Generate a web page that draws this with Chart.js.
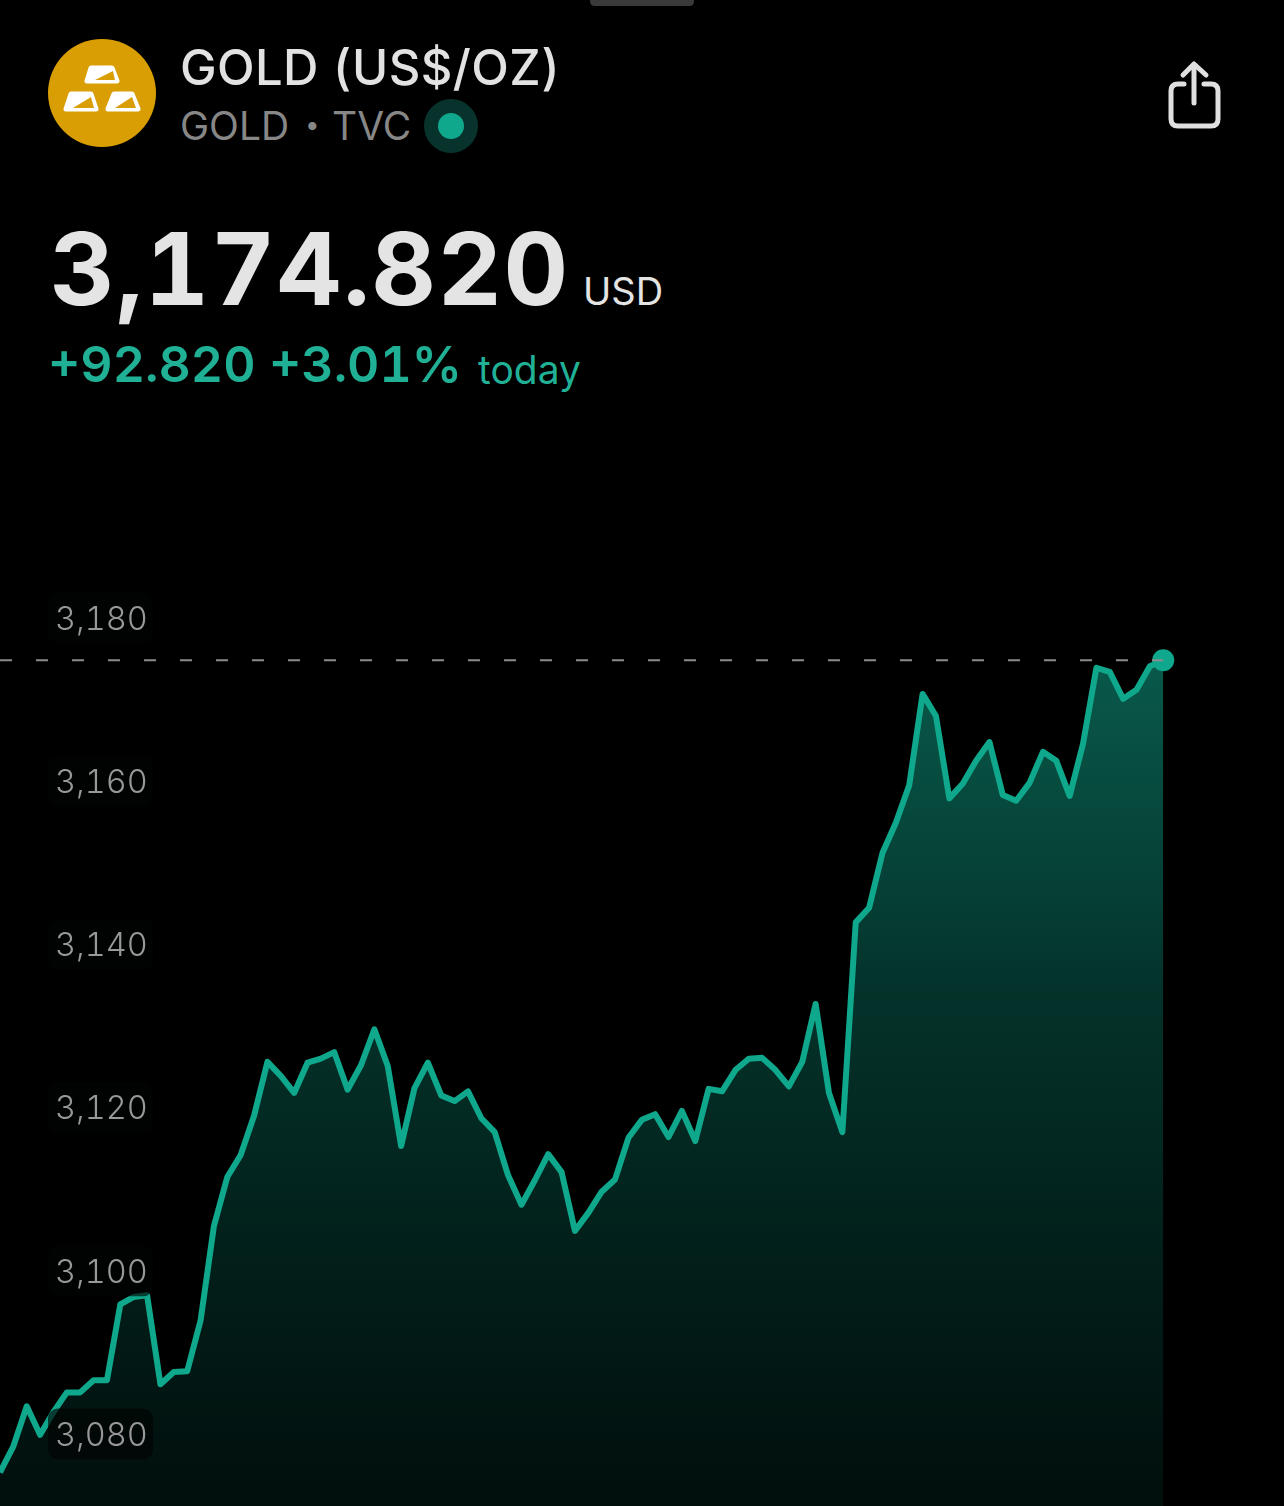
<!DOCTYPE html>
<html>
<head>
<meta charset="utf-8">
<title>GOLD (US$/OZ)</title>
<script src="https://cdn.jsdelivr.net/npm/chart.js@4"></script>
<style>
  html, body { margin: 0; background: #000; }
  body { position: relative; width: 1284px; height: 1506px; overflow: hidden; font-family: Inter, sans-serif; font-variant-numeric: tabular-nums; }
  .txt { position: absolute; white-space: nowrap; line-height: 1; }
  svg { position: absolute; left: 0; top: 0; }
  #chart-wrap { position: absolute; left: 0; top: 560px; width: 1284px; height: 946px; }
</style>
</head>
<body>
<svg width="1284" height="200" viewBox="0 0 1284 200">
  <path d="M590 0 H694 V1 Q694 6 689 6 H595 Q590 6 590 1 Z" fill="#3a3a3a"/>
  <!-- gold bars logo -->
  <circle cx="102" cy="93" r="54" fill="#d99e04"/>
  <g fill="#fff" stroke="#fff" stroke-width="5" stroke-linejoin="round">
    <path d="M91 68 H112 L117 81 H87 Z"/>
    <path d="M71 94 H91 L96 109 H66 Z"/>
    <path d="M114 94 H132 L138 109 H108 Z"/>
  </g>
  <g fill="#d99e04">
    <path d="M95 80 L113 71 L115 80 Z"/>
    <path d="M73 108 L91 97 L94 108 Z"/>
    <path d="M115 108 L132 97 L136 108 Z"/>
  </g>
  <!-- live marker -->
  <circle cx="451" cy="126" r="27" fill="#08332d"/>
  <circle cx="451" cy="126" r="13" fill="#10a88c"/>
  <!-- share icon -->
  <g fill="none" stroke="#e0e0e0" stroke-width="5" stroke-linecap="round" stroke-linejoin="round">
    <path d="M1194 65 V103"/>
    <path d="M1183 75 L1194 64 L1206 75"/>
    <path d="M1184 84 H1178 Q1171 84 1171 91 V119 Q1171 126 1178 126 H1211 Q1218 126 1218 119 V91 Q1218 84 1211 84 H1204"/>
  </g>
</svg>

<span class="txt" style="left:180px;top:43px;font-size:49px;font-weight:500;letter-spacing:0.4px;color:#e2e2e2">GOLD (US$/OZ)</span>
<span class="txt" style="left:180px;top:106px;font-size:39px;color:#878787">GOLD</span>
<span class="txt" style="left:305px;top:112px;font-size:26px;color:#878787">•</span>
<span class="txt" style="left:332px;top:106px;font-size:39px;color:#878787">TVC</span>

<span class="txt" style="left:50px;top:219px;font-size:100px;font-weight:700;letter-spacing:1.5px;color:#e4e4e4">3,174.820</span>
<span class="txt" style="left:583px;top:272px;font-size:38px;color:#e4e4e4">USD</span>
<span class="txt" style="left:48px;top:339px;font-size:50px;font-weight:600;color:#20b096">+92.820 +3.01%</span>
<span class="txt" style="left:478px;top:350px;font-size:39px;color:#20b096">today</span>

<div id="chart-wrap"><canvas id="gold-chart" width="1284" height="946"></canvas></div>

<script>
// Intraday gold quotes
const prices = [
  3075.3, 3078.5, 3083.4, 3079.9, 3082.7, 3085.1, 3085.1, 3086.6, 3086.6, 3095.9,
  3096.8, 3097.0, 3086.1, 3087.6, 3087.7, 3093.9, 3105.5, 3111.5, 3114.2, 3119.0,
  3125.6, 3123.9, 3121.8, 3125.5, 3126.0, 3126.8, 3122.2, 3125.2, 3129.6, 3125.1,
  3115.3, 3122.4, 3125.5, 3121.5, 3120.8, 3122.0, 3118.7, 3117.0, 3111.7, 3108.1,
  3111.1, 3114.3, 3112.1, 3104.9, 3107.1, 3109.7, 3111.2, 3116.3, 3118.5, 3119.2,
  3116.4, 3119.6, 3115.9, 3122.3, 3122.0, 3124.6, 3126.0, 3126.1, 3124.6, 3122.6,
  3125.6, 3132.7, 3121.8, 3117.0, 3142.7, 3144.5, 3151.2, 3154.9, 3159.5, 3170.7,
  3168.0, 3157.9, 3159.7, 3162.5, 3164.8, 3158.3, 3157.6, 3159.8, 3163.6, 3162.5,
  3158.2, 3164.6, 3173.9, 3173.4, 3170.1, 3171.2, 3174.1, 3174.82
];
const lastPrice = 3174.82;
const yTicks = [3080, 3100, 3120, 3140, 3160, 3180];

const LINE_COLOR = '#10a88c';

// Rounded dark chips behind the axis labels, they dim the line passing under them
const labelChips = {
  id: 'labelChips',
  afterDatasetsDraw(chart) {
    const { ctx, scales } = chart;
    ctx.save();
    ctx.fillStyle = 'rgba(2, 3, 3, 0.65)';
    yTicks.forEach(t => {
      const py = scales.y.getPixelForValue(t);
      ctx.beginPath();
      ctx.roundRect(48, py - 25.5, 105, 51, 10);
      ctx.fill();
    });
    ctx.restore();
  }
};

function areaGradient(context) {
  const { ctx, chartArea } = context.chart;
  if (!chartArea) return 'transparent';
  const g = ctx.createLinearGradient(0, 90, 0, chartArea.bottom + 40);
  g.addColorStop(0, '#095a4b');
  g.addColorStop(0.28, '#053e34');
  g.addColorStop(0.39, '#04322a');
  g.addColorStop(0.66, '#02201b');
  g.addColorStop(1, '#010c0a');
  return g;
}

new Chart(document.getElementById('gold-chart'), {
  type: 'line',
  data: {
    datasets: [
      {
        // last price guide
        data: [{ x: 0, y: lastPrice }, { x: prices.length - 1, y: lastPrice }],
        borderColor: '#8c8c8c',
        borderWidth: 2,
        borderDash: [12, 24],
        pointRadius: 0,
        fill: false,
        order: 0
      },
      {
        data: prices.map((p, i) => ({ x: i, y: p })),
        borderColor: LINE_COLOR,
        borderWidth: 6,
        borderJoinStyle: 'round',
        backgroundColor: areaGradient,
        fill: 'start',
        tension: 0,
        pointRadius: ctx => (ctx.dataIndex === prices.length - 1 ? 11 : 0),
        pointBackgroundColor: LINE_COLOR,
        pointBorderWidth: 0,
        order: 1
      }
    ]
  },
  options: {
    responsive: false,
    animation: false,
    devicePixelRatio: 1,
    layout: { padding: 0, autoPadding: false },
    plugins: { legend: { display: false }, tooltip: { enabled: false } },
    scales: {
      x: { type: 'linear', display: false, min: 0, max: 96.03 },
      y: {
        min: 3071.18,
        max: 3187.11,
        grid: { display: false, drawTicks: false },
        border: { display: false },
        afterFit: scale => {
          scale.width = 0;
          scale.paddingTop = 0;
          scale.paddingBottom = 0;
        },
        afterBuildTicks: scale => { scale.ticks = yTicks.map(value => ({ value })); },
        ticks: {
          z: 1,
          mirror: true,
          padding: 55,
          labelOffset: 2,
          color: '#989898',
          font: { family: 'Inter', size: 32.5, weight: 300 },
          callback: v => v.toLocaleString('en-US')
        }
      }
    }
  },
  plugins: [labelChips]
});
</script>
</body>
</html>
